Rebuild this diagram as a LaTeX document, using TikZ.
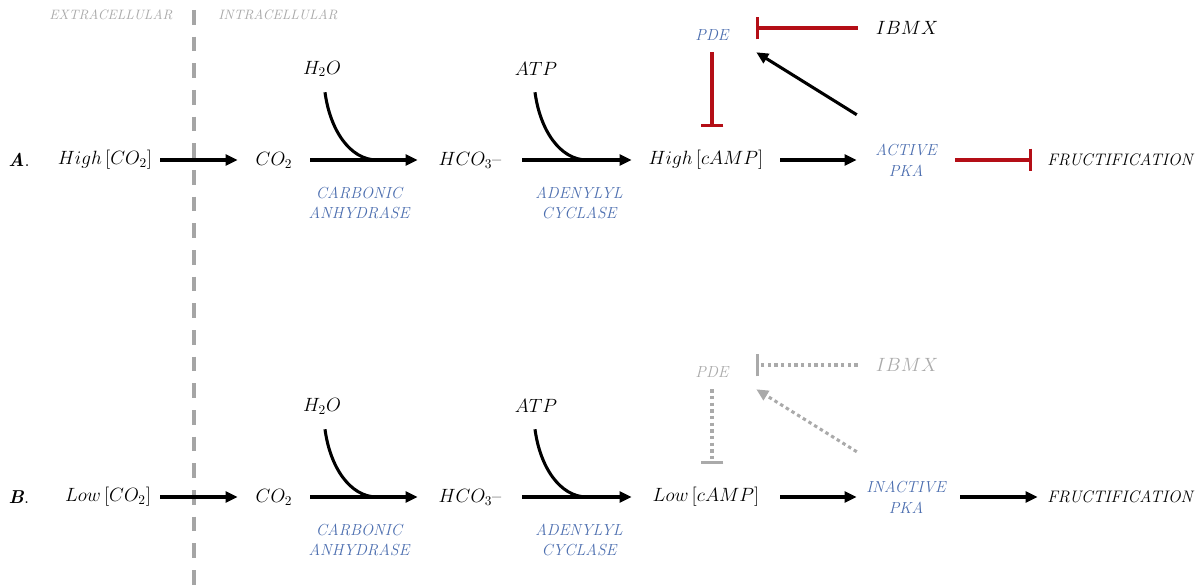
\documentclass[tikz,border=0pt]{standalone}
\usetikzlibrary{arrows.meta}
\definecolor{enzblue}{RGB}{76,110,175}
\definecolor{inhred}{RGB}{180,14,22}
\definecolor{fadegray}{RGB}{170,170,170}
\definecolor{memgray}{RGB}{165,165,165}
\tikzset{
  lbl/.style={inner sep=0pt, font=\fontsize{14}{16}\selectfont},
  enz/.style={inner sep=0pt, align=center, text=enzblue, font=\fontsize{12}{15.5}\selectfont\itshape},
  side/.style={inner sep=0pt, text=fadegray, font=\fontsize{10.2}{12}\selectfont\itshape},
  faded/.style={inner sep=0pt, text=fadegray, font=\fontsize{14}{16}\selectfont},
  arr/.style={line width=2.3pt, -{Triangle[length=9pt,width=8pt]}},
  curveline/.style={line width=2.3pt},
  inh/.style={inhred, line width=2.3pt, -{Bar[width=17pt]}},
  ginh/.style={fadegray, line width=2.3pt, dash pattern=on 2.6pt off 2.4pt, -{Bar[width=17pt]}},
  garr/.style={fadegray, line width=2.3pt, dash pattern=on 2.6pt off 2.4pt, -{Triangle[length=9pt,width=8pt]}},
  membrane/.style={memgray, line width=3pt, dash pattern=on 11pt off 9pt},
}
\begin{document}
\begin{tikzpicture}[x=0.75pt,y=-0.75pt]
\useasboundingbox (0,0) rectangle (1203,585);

% membrane
\node[side] (extra) at (111,15) {EXTRACELLULAR};
\node[side] (intra) at (278,15) {INTRACELLULAR};
\draw[membrane] (194,10) -- (194,585);

% ---------------- Row A ----------------
\node[lbl] (labA) at (19,160) {\textbf{\textit{A}}.};
\node[lbl, minimum width=82.5pt] (hico2A) at (105,160) {$High\,[CO_2]$};
\node[lbl, minimum width=54pt] (co2A) at (274,160) {$CO_2$};
\node[lbl, minimum height=34.5pt] (h2oA) at (322,69) {$H_2O$};
\node[enz] (caA) at (359,203) {CARBONIC\\ANHYDRASE};
\node[lbl, minimum width=78pt] (hco3A) at (470,160) {$HCO_3$--};
\node[lbl, minimum height=34.5pt] (atpA) at (536,69) {$ATP$};
\node[enz] (acA) at (579,203) {ADENYLYL\\CYCLASE};
\node[lbl, minimum width=111pt, minimum height=49.5pt] (campA) at (706,160) {$High\,[cAMP]$};
\node[enz, minimum width=66pt, minimum height=25.5pt] (pdeA) at (712,35) {PDE};
\node[lbl, minimum width=73.5pt] (ibmxA) at (907,28) {$IBMX$};
\node[enz, minimum width=73.5pt, minimum height=67.5pt] (pkaA) at (906,160) {ACTIVE\\PKA};
\node[lbl, minimum width=132pt, font=\fontsize{12.5}{15}\selectfont\itshape] (fruA) at (1120,160) {FRUCTIFICATION};

\coordinate (jA1) at (377,160);
\coordinate (jA2) at (587,160);

\draw[arr] (hico2A) -- (co2A);
\draw[arr] (co2A) -- (hco3A);
\draw[curveline] ([xshift=2.25pt]h2oA.south) .. controls (330,130) and (350,160) .. (jA1);
\draw[arr] (hco3A) -- (campA);
\draw[curveline] ([xshift=-0.75pt]atpA.south) .. controls (540,130) and (560,160) .. (jA2);
\draw[arr] (campA) -- (pkaA);
\draw[inh] (pkaA) -- (fruA);
\draw[inh] (pdeA.south) -- (pdeA.south |- campA.north);
\draw[inh] (ibmxA.west) -- (ibmxA.west -| pdeA.east);
\draw[arr] (pkaA.north west) -- (pdeA.south east);

% ---------------- Row B ----------------
\node[lbl] (labB) at (19,497) {\textbf{\textit{B}}.};
\node[lbl, minimum width=78pt] (loco2B) at (108,497) {$Low\,[CO_2]$};
\node[lbl, minimum width=54pt] (co2B) at (274,497) {$CO_2$};
\node[lbl, minimum height=34.5pt] (h2oB) at (322,406) {$H_2O$};
\node[enz] (caB) at (359,540) {CARBONIC\\ANHYDRASE};
\node[lbl, minimum width=78pt] (hco3B) at (470,497) {$HCO_3$--};
\node[lbl, minimum height=34.5pt] (atpB) at (536,406) {$ATP$};
\node[enz] (acB) at (579,540) {ADENYLYL\\CYCLASE};
\node[lbl, minimum width=111pt, minimum height=49.5pt] (campB) at (706,497) {$Low\,[cAMP]$};
\node[enz, text=fadegray, minimum width=66pt, minimum height=25.5pt] (pdeB) at (712,372) {PDE};
\node[faded, minimum width=73.5pt] (ibmxB) at (907,365) {$IBMX$};
\node[enz, minimum width=73.5pt, minimum height=67.5pt] (pkaB) at (906,497) {INACTIVE\\PKA};
\node[lbl, minimum width=132pt, font=\fontsize{12.5}{15}\selectfont\itshape] (fruB) at (1120,497) {FRUCTIFICATION};

\coordinate (jB1) at (377,497);
\coordinate (jB2) at (587,497);

\draw[arr] (loco2B) -- (co2B);
\draw[arr] (co2B) -- (hco3B);
\draw[curveline] ([xshift=2.25pt]h2oB.south) .. controls (330,467) and (350,497) .. (jB1);
\draw[arr] (hco3B) -- (campB);
\draw[curveline] ([xshift=-0.75pt]atpB.south) .. controls (540,467) and (560,497) .. (jB2);
\draw[arr] (campB) -- (pkaB);
\draw[arr, shorten <=3.75pt, shorten >=-4.5pt] (pkaB) -- (fruB);
\draw[ginh] (pdeB.south) -- (pdeB.south |- campB.north);
\draw[ginh] (ibmxB.west) -- (ibmxB.west -| pdeB.east);
\draw[garr] (pkaB.north west) -- (pdeB.south east);
\end{tikzpicture}
\end{document}
